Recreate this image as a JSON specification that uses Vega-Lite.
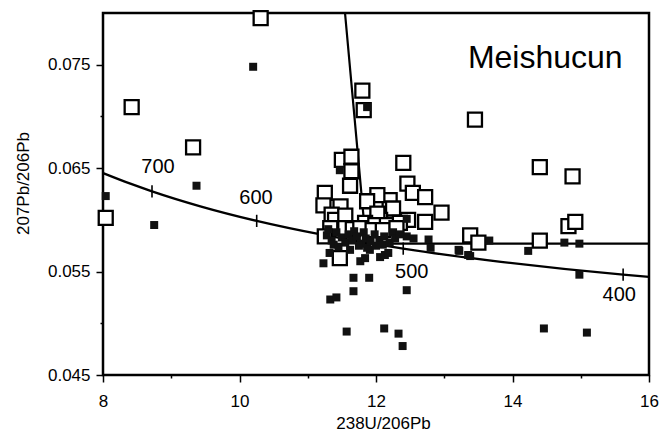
{
  "$schema": "https://vega.github.io/schema/vega-lite/v6.json",
  "autosize": "none",
  "width": 546,
  "height": 362,
  "padding": {"left": 103, "top": 13, "right": 12, "bottom": 58},
  "background": "white",
  "config": {
    "font": "Liberation Sans",
    "view": {"stroke": "black", "strokeWidth": 2.5},
    "axis": {"domain": false, "grid": false, "tickColor": "black", "tickWidth": 1.5, "labelColor": "black", "titleColor": "black", "labelFont": "Liberation Sans", "titleFont": "Liberation Sans", "labelFontSize": 17, "titleFontSize": 17, "titleFontWeight": "normal"}
  },
  "datasets": {
    "pts": [
      {"x": 10.31, "y": 0.0795, "type": "open"},
      {"x": 8.42, "y": 0.0709, "type": "open"},
      {"x": 9.32, "y": 0.0670, "type": "open"},
      {"x": 8.04, "y": 0.0602, "type": "open"},
      {"x": 13.45, "y": 0.0697, "type": "open"},
      {"x": 14.40, "y": 0.0651, "type": "open"},
      {"x": 14.88, "y": 0.0642, "type": "open"},
      {"x": 12.96, "y": 0.0607, "type": "open"},
      {"x": 14.82, "y": 0.0594, "type": "open"},
      {"x": 14.92, "y": 0.0598, "type": "open"},
      {"x": 13.38, "y": 0.0585, "type": "open"},
      {"x": 13.50, "y": 0.0578, "type": "open"},
      {"x": 14.40, "y": 0.0580, "type": "open"},
      {"x": 12.40, "y": 0.0655, "type": "open"},
      {"x": 12.46, "y": 0.0635, "type": "open"},
      {"x": 12.54, "y": 0.0626, "type": "open"},
      {"x": 12.72, "y": 0.0622, "type": "open"},
      {"x": 12.72, "y": 0.0598, "type": "open"},
      {"x": 12.20, "y": 0.0619, "type": "open"},
      {"x": 12.25, "y": 0.0611, "type": "open"},
      {"x": 12.47, "y": 0.0600, "type": "open"},
      {"x": 12.06, "y": 0.0600, "type": "open"},
      {"x": 11.50, "y": 0.0658, "type": "open"},
      {"x": 11.64, "y": 0.0661, "type": "open"},
      {"x": 11.64, "y": 0.0647, "type": "open"},
      {"x": 11.62, "y": 0.0633, "type": "open"},
      {"x": 11.25, "y": 0.0626, "type": "open"},
      {"x": 11.23, "y": 0.0614, "type": "open"},
      {"x": 11.48, "y": 0.0613, "type": "open"},
      {"x": 11.35, "y": 0.0605, "type": "open"},
      {"x": 11.40, "y": 0.0600, "type": "open"},
      {"x": 11.55, "y": 0.0604, "type": "open"},
      {"x": 12.02, "y": 0.0624, "type": "open"},
      {"x": 11.87, "y": 0.0618, "type": "open"},
      {"x": 12.02, "y": 0.0606, "type": "open"},
      {"x": 11.33, "y": 0.0592, "type": "open"},
      {"x": 11.84, "y": 0.0597, "type": "open"},
      {"x": 11.99, "y": 0.0595, "type": "open"},
      {"x": 12.16, "y": 0.0595, "type": "open"},
      {"x": 12.35, "y": 0.0597, "type": "open"},
      {"x": 11.25, "y": 0.0584, "type": "open"},
      {"x": 11.47, "y": 0.0563, "type": "open"},
      {"x": 11.55, "y": 0.0592, "type": "open"},
      {"x": 11.66, "y": 0.0591, "type": "open"},
      {"x": 11.77, "y": 0.0592, "type": "open"},
      {"x": 11.95, "y": 0.0590, "type": "open"},
      {"x": 12.10, "y": 0.0590, "type": "open"},
      {"x": 12.30, "y": 0.0592, "type": "open"},
      {"x": 11.80, "y": 0.0725, "type": "open"},
      {"x": 11.82, "y": 0.0706, "type": "open"},
      {"x": 8.04, "y": 0.0623, "type": "filled"},
      {"x": 8.75, "y": 0.0595, "type": "filled"},
      {"x": 9.37, "y": 0.0633, "type": "filled"},
      {"x": 10.20, "y": 0.0748, "type": "filled"},
      {"x": 11.87, "y": 0.0709, "type": "filled"},
      {"x": 11.47, "y": 0.0648, "type": "filled"},
      {"x": 13.66, "y": 0.0580, "type": "filled"},
      {"x": 13.22, "y": 0.0570, "type": "filled"},
      {"x": 13.38, "y": 0.0565, "type": "filled"},
      {"x": 14.23, "y": 0.0570, "type": "filled"},
      {"x": 14.76, "y": 0.0578, "type": "filled"},
      {"x": 14.98, "y": 0.0577, "type": "filled"},
      {"x": 14.98, "y": 0.0547, "type": "filled"},
      {"x": 14.46, "y": 0.0495, "type": "filled"},
      {"x": 15.09, "y": 0.0491, "type": "filled"},
      {"x": 11.23, "y": 0.0558, "type": "filled"},
      {"x": 11.32, "y": 0.0568, "type": "filled"},
      {"x": 11.77, "y": 0.0560, "type": "filled"},
      {"x": 11.84, "y": 0.0563, "type": "filled"},
      {"x": 12.06, "y": 0.0564, "type": "filled"},
      {"x": 12.13, "y": 0.0566, "type": "filled"},
      {"x": 11.91, "y": 0.0571, "type": "filled"},
      {"x": 11.67, "y": 0.0544, "type": "filled"},
      {"x": 11.90, "y": 0.0544, "type": "filled"},
      {"x": 11.67, "y": 0.0531, "type": "filled"},
      {"x": 11.33, "y": 0.0523, "type": "filled"},
      {"x": 11.42, "y": 0.0525, "type": "filled"},
      {"x": 12.45, "y": 0.0532, "type": "filled"},
      {"x": 11.57, "y": 0.0492, "type": "filled"},
      {"x": 12.12, "y": 0.0495, "type": "filled"},
      {"x": 12.33, "y": 0.0490, "type": "filled"},
      {"x": 12.39, "y": 0.0478, "type": "filled"},
      {"x": 12.45, "y": 0.0584, "type": "filled"},
      {"x": 12.55, "y": 0.0582, "type": "filled"},
      {"x": 12.77, "y": 0.0581, "type": "filled"},
      {"x": 12.80, "y": 0.0573, "type": "filled"},
      {"x": 13.21, "y": 0.0571, "type": "filled"},
      {"x": 13.35, "y": 0.0566, "type": "filled"},
      {"x": 12.45, "y": 0.0601, "type": "filled"},
      {"x": 11.62, "y": 0.0571, "type": "filled"},
      {"x": 11.87, "y": 0.0573, "type": "filled"},
      {"x": 12.18, "y": 0.0568, "type": "filled"},
      {"x": 11.28, "y": 0.0585, "type": "filled"},
      {"x": 11.35, "y": 0.0580, "type": "filled"},
      {"x": 11.38, "y": 0.0576, "type": "filled"},
      {"x": 11.42, "y": 0.0588, "type": "filled"},
      {"x": 11.50, "y": 0.0583, "type": "filled"},
      {"x": 11.55, "y": 0.0578, "type": "filled"},
      {"x": 11.60, "y": 0.0586, "type": "filled"},
      {"x": 11.65, "y": 0.0580, "type": "filled"},
      {"x": 11.68, "y": 0.0589, "type": "filled"},
      {"x": 11.72, "y": 0.0584, "type": "filled"},
      {"x": 11.78, "y": 0.0577, "type": "filled"},
      {"x": 11.82, "y": 0.0588, "type": "filled"},
      {"x": 11.85, "y": 0.0582, "type": "filled"},
      {"x": 11.92, "y": 0.0579, "type": "filled"},
      {"x": 11.98, "y": 0.0586, "type": "filled"},
      {"x": 12.05, "y": 0.0580, "type": "filled"},
      {"x": 12.10, "y": 0.0576, "type": "filled"},
      {"x": 12.12, "y": 0.0584, "type": "filled"},
      {"x": 12.20, "y": 0.0578, "type": "filled"},
      {"x": 12.25, "y": 0.0588, "type": "filled"},
      {"x": 12.28, "y": 0.0582, "type": "filled"},
      {"x": 11.45, "y": 0.0574, "type": "filled"},
      {"x": 11.75, "y": 0.0575, "type": "filled"},
      {"x": 12.00, "y": 0.0575, "type": "filled"},
      {"x": 12.35, "y": 0.0586, "type": "filled"},
      {"x": 11.30, "y": 0.0591, "type": "filled"}
    ],
    "concordia": [
      {"x": 8.0, "y": 0.06453},
      {"x": 8.401, "y": 0.0635},
      {"x": 8.718, "y": 0.06276},
      {"x": 9.426, "y": 0.06131},
      {"x": 10.252, "y": 0.0599},
      {"x": 11.228, "y": 0.05854},
      {"x": 12.399, "y": 0.05722},
      {"x": 13.831, "y": 0.05594},
      {"x": 15.621, "y": 0.0547},
      {"x": 16.0, "y": 0.05449}
    ],
    "mixline": [
      {"x": 11.546, "y": 0.08},
      {"x": 11.853, "y": 0.0577},
      {"x": 16.0, "y": 0.0577}
    ],
    "ages": [
      {"x": 8.718, "y": 0.06276, "lx": 8.806, "ly": 0.06511, "label": "700"},
      {"x": 10.252, "y": 0.0599, "lx": 10.242, "ly": 0.06211, "label": "600"},
      {"x": 12.399, "y": 0.05722, "lx": 12.523, "ly": 0.05499, "label": "500"},
      {"x": 15.621, "y": 0.0547, "lx": 15.565, "ly": 0.05273, "label": "400"}
    ],
    "title": [
      {"x": 14.48, "y": 0.07565, "label": "Meishucun"}
    ]
  },
  "encoding": {
    "x": {
      "field": "x", "type": "quantitative",
      "scale": {"domain": [8, 16], "nice": false, "zero": false},
      "axis": {
        "title": "238U/206Pb",
        "values": [8, 9, 10, 11, 12, 13, 14, 15, 16],
        "labelExpr": "datum.value % 2 == 0 ? datum.label : ''",
        "tickSize": {"condition": {"test": "datum.value % 2 == 0", "value": 7}, "value": 3},
        "labelPadding": 11,
        "labelFlush": false,
        "titleX": 280, "titleY": 48, "titleAlign": "center", "titleBaseline": "middle"
      }
    },
    "y": {
      "field": "y", "type": "quantitative",
      "scale": {"domain": [0.045, 0.08], "nice": false, "zero": false},
      "axis": {
        "title": "207Pb/206Pb",
        "values": [0.045, 0.05, 0.055, 0.06, 0.065, 0.07, 0.075],
        "labelExpr": "round(datum.value*1000) % 10 == 5 ? format(datum.value, '.3f') : ''",
        "tickSize": {"condition": {"test": "round(datum.value*1000) % 10 == 5", "value": 7}, "value": 3},
        "labelPadding": 6,
        "labelFlush": false,
        "titleX": -80, "titleY": 170, "titleAlign": "center", "titleBaseline": "middle"
      }
    }
  },
  "layer": [
    {
      "data": {"name": "concordia"},
      "mark": {"type": "line", "color": "black", "strokeWidth": 2.3, "interpolate": "monotone"}
    },
    {
      "data": {"name": "mixline"},
      "mark": {"type": "line", "color": "black", "strokeWidth": 2.2}
    },
    {
      "data": {"name": "pts"},
      "transform": [{"filter": "datum.type == 'open'"}],
      "mark": {"type": "point", "shape": "square", "filled": true, "fill": "white", "stroke": "black", "strokeWidth": 2.3, "size": 196, "opacity": 1}
    },
    {
      "data": {"name": "pts"},
      "transform": [{"filter": "datum.type == 'filled'"}],
      "mark": {"type": "square", "size": 64, "color": "#111111", "opacity": 1}
    },
    {
      "data": {"name": "ages"},
      "mark": {"type": "point", "shape": "M0,-1L0,1", "size": 150, "stroke": "black", "strokeWidth": 1.6, "filled": false, "opacity": 1}
    },
    {
      "data": {"name": "ages"},
      "mark": {"type": "text", "fontSize": 20, "color": "black", "align": "center", "baseline": "middle", "font": "Liberation Sans"},
      "encoding": {
        "x": {"field": "lx", "type": "quantitative"},
        "y": {"field": "ly", "type": "quantitative"},
        "text": {"field": "label"}
      }
    },
    {
      "data": {"name": "title"},
      "mark": {"type": "text", "fontSize": 32, "color": "black", "align": "center", "baseline": "middle", "font": "Liberation Sans"},
      "encoding": {"text": {"field": "label"}}
    }
  ]
}
